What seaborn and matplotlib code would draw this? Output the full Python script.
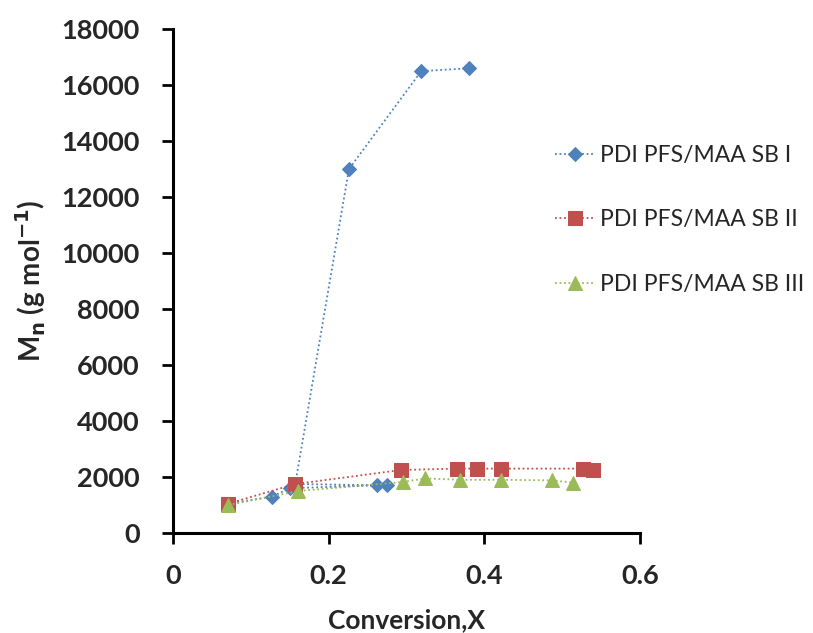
import matplotlib
matplotlib.use("Agg")
import matplotlib.pyplot as plt
import seaborn as sns
import pandas as pd

# Data
conv_I = [0.071, 0.127, 0.150, 0.262, 0.275, 0.157, 0.226, 0.319, 0.380]
mn_I = [1050, 1300, 1600, 1700, 1700, 1750, 13000, 16500, 16600]

conv_II = [0.071, 0.157, 0.293, 0.365, 0.391, 0.422, 0.527, 0.540]
mn_II = [1050, 1750, 2250, 2300, 2300, 2300, 2300, 2250]

conv_III = [0.071, 0.161, 0.295, 0.324, 0.369, 0.421, 0.487, 0.514]
mn_III = [1000, 1500, 1820, 1950, 1900, 1900, 1880, 1800]

labels = ["PDI PFS/MAA SB I", "PDI PFS/MAA SB II", "PDI PFS/MAA SB III"]
x_ticks = [0, 0.2, 0.4, 0.6]
x_tick_labels = ["0", "0.2", "0.4", "0.6"]
y_ticks = list(range(0, 18001, 2000))

sns.set_theme(style="white")
plt.rcParams['font.family'] = ['Lato', 'DejaVu Sans']

fig = plt.figure(figsize=(8.13, 6.33), dpi=100)
ax = fig.add_axes([0.213, 0.158, 0.574, 0.796])

colors = ["#4F81BD", "#C0504D", "#9BBB59"]
markers = ["D", "s", "^"]
msizes = [7.5, 9.5, 9.5]
series = [(conv_I, mn_I), (conv_II, mn_II), (conv_III, mn_III)]

for (xs, ys), lab, c, m, ms in zip(series, labels, colors, markers, msizes):
    df = pd.DataFrame({"x": xs, "y": ys})
    sns.lineplot(data=df, x="x", y="y", sort=False, ax=ax, color=c,
                 marker=m, markersize=ms, markeredgecolor=c,
                 linestyle=(0, (1, 1.5)), linewidth=1.3, label=lab)

ax.set_xlim(0, 0.6)
ax.set_ylim(0, 18000)
ax.set_xticks(x_ticks)
ax.set_xticklabels(x_tick_labels)
ax.set_yticks(y_ticks)
ax.set_yticklabels([str(v) for v in y_ticks])

for s in ["top", "right"]:
    ax.spines[s].set_visible(False)
for s in ["left", "bottom"]:
    ax.spines[s].set_color("black")
    ax.spines[s].set_linewidth(2.2)

ax.tick_params(axis="both", which="major", direction="out", length=8,
               width=2, color="black", labelsize=19.5, left=True, bottom=True)
for lbl in ax.get_xticklabels() + ax.get_yticklabels():
    lbl.set_fontweight("bold")
ax.tick_params(axis="x", pad=14)
ax.tick_params(axis="y", pad=16)

ax.set_xlabel("Conversion,X", fontsize=19, fontweight="bold", labelpad=15)
ax.set_ylabel(r"M$_\mathbf{n}$ (g mol$^\mathbf{-1}$)", fontsize=20,
              fontweight="bold", labelpad=10)

leg = ax.legend(loc="upper left", bbox_to_anchor=(0.683, 0.771),
                bbox_transform=fig.transFigure, frameon=False,
                borderaxespad=0, borderpad=0,
                fontsize=16.5, labelspacing=1.9, handlelength=1.7,
                handletextpad=0.25)

fig.savefig("out.png", dpi=100)
